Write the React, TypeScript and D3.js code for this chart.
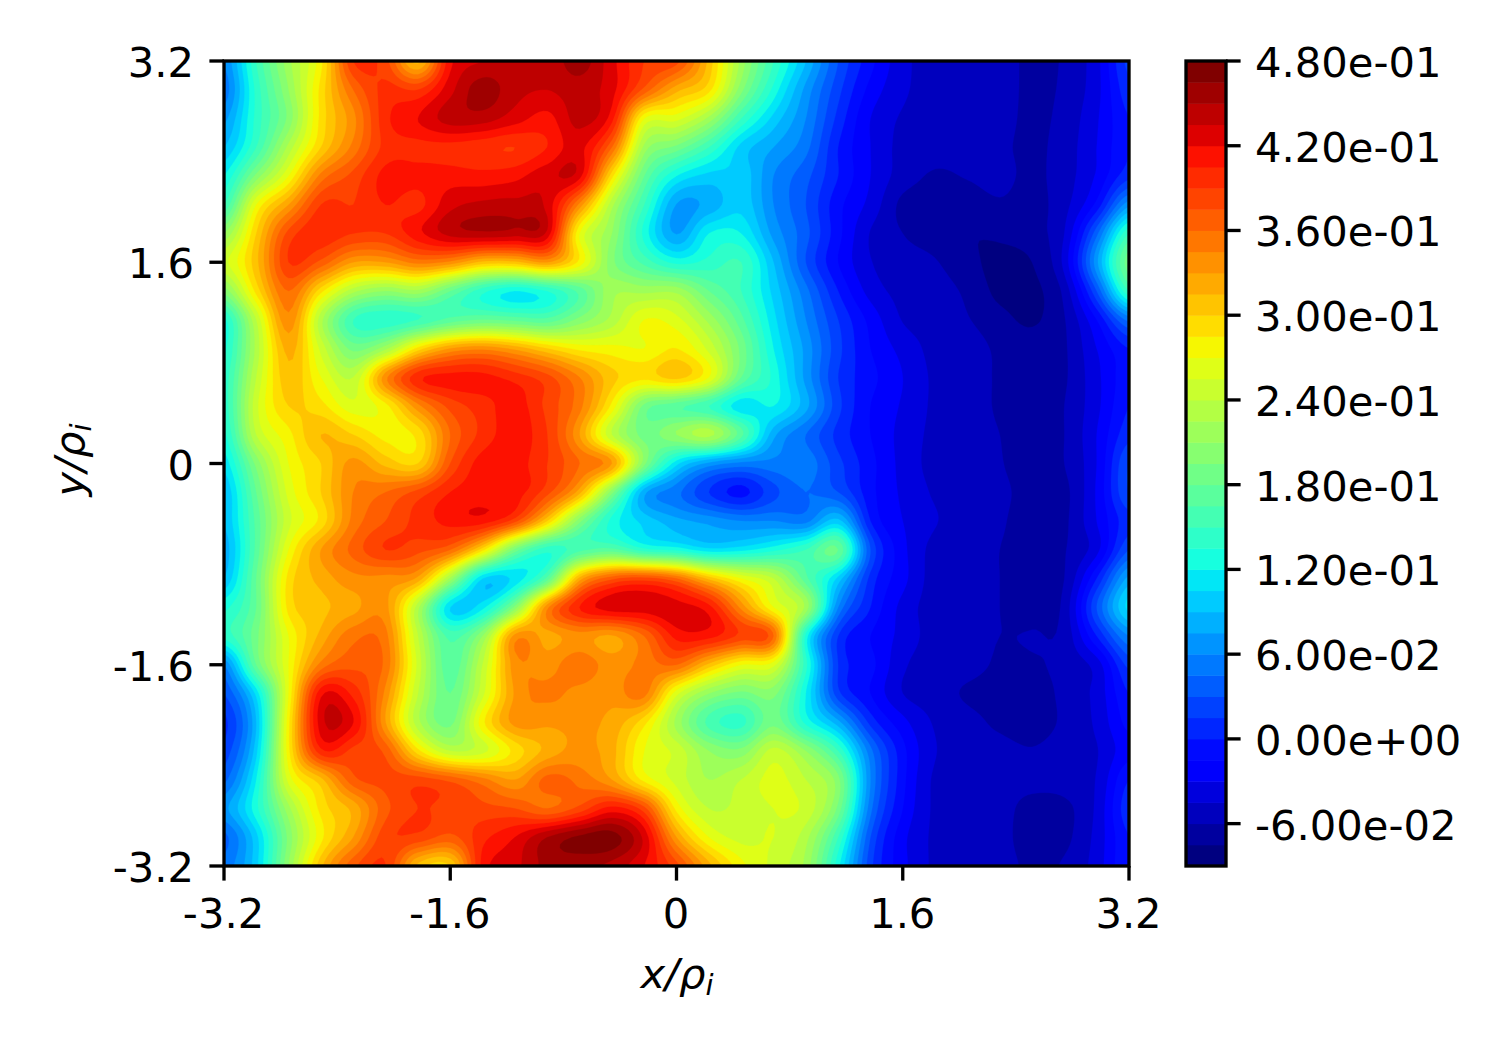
import React, { useMemo } from "react";
import * as d3 from "d3";

// Field values, in units of 1e-2, top row first (y = +3.2), left to right (x = -3.2 .. 3.2)
const row00 = [6,15,22,28,39,38,31,41.5,43.5,43.8,43.8,45.8,42.5,39,38,31,22,15,9,3,-1,-4,-5.2,-5.3,-5.4,-6.3,-5.8,-3.5,2];
const row01 = [5,14,21,29,36,39.5,39,43,45.8,44,43.5,44.2,42.5,37,32,29,20,13,7,2,-2,-4.2,-5.2,-5.3,-5.4,-6.3,-5.7,-3.5,1];
const row02 = [7,14,20,29,34,40,42,44.2,44.2,42.7,41.5,44,41,27,26,22,15,10,6,1,-3,-4.7,-5.2,-5.3,-5.5,-6.3,-5.5,-3.2,0];
const row03 = [9,15,23,30,35,39.5,40,40,39.5,39,40.5,42.5,36,22,19,15,10,7.5,5,0,-3,-5,-5.3,-5.3,-5.7,-6.3,-5.3,-3,0];
const row04 = [12,20,27,35,38,41,41,41.2,41,41.5,43,42.5,29,18,12,10,10,6,3.5,0,-3,-5.2,-6.2,-5.9,-5.6,-6.3,-5.2,-2.8,1];
const row05 = [15,27,33,39,39,40.5,40,43,43.8,43.9,43,34,23,15,7.4,8,10,6,3,-1,-3.5,-6.4,-6.6,-6.7,-6.2,-6.5,-5,-1,7];
const row06 = [21,30,38,40,39,39,41.5,44,44.6,44.2,43,27,21,13,7.4,12,12,7,3.5,-1,-4.6,-6,-6.6,-7.4,-7.2,-6.5,-4.5,4,15];
const row07 = [25,31,39,37,33,33,35,34,31,31,33,28,20,16,13,14,15,9,3,-1.5,-4.4,-5.4,-5.9,-7,-8,-7.5,-4,7,19];
const row08 = [20,29,36,29,23,21,22,18,14,12,13.5,17,22,22,22,18,15,10,5,0,-3.6,-5,-5.4,-6.3,-7.9,-7.9,-5.5,3,15];
const row09 = [13,24,34,23,15,14,15,17,18,17.5,17,20,23,27,26,22,17,11,6,1.5,-2,-4.6,-5.2,-5.9,-7,-7.7,-6.1,-1.5,5];
const row10 = [13,23,32,25,19,22,29,33,34,32.5,30,28,27.5,27,28.5,25,19,12,7,2,-1.5,-3.5,-5,-5.3,-6.3,-6.8,-6.2,-3,0];
const row11 = [14,24,31,27,24,34,40,41,41,39.8,38,34.5,30.5,29,30.5,27,18,13,7,1.5,-1,-3,-4.8,-5.3,-6.2,-6.7,-6.2,-3.4,-0.5];
const row12 = [14,25,30,29,26,28,34,38,39.7,41.2,38.5,35,28,19,17,15,11,12,8,2,-1.5,-3.2,-4.8,-5.3,-6.2,-6.7,-6,-3.4,0];
const row13 = [13,24,28,31.5,30,28,29,36,39.5,41.2,39,33,24,19,21,23,17,8,4.5,1,-1.5,-3.5,-4.9,-5.3,-6,-6.7,-6,-3,1];
const row14 = [11,20,27,30,33.5,31,30,37.5,41.2,41.2,39,36,33,20,11,7,5.5,5.5,5.5,2,-1,-3.5,-5,-5.3,-5.9,-6.7,-6,-3,3];
const row15 = [9,18,26,30,34.5,36,38,40.5,41.2,41.2,38,32,20,8,5,1.5,-0.5,2.5,4.5,3,-1,-3.3,-4.7,-5.3,-5.7,-6.5,-6.4,-2.8,3];
const row16 = [9,17,25,29,35,37.5,39.5,41,41.2,38,30,20,13,10,8,7,6,6,5.5,9.5,0,-3,-4.4,-5.2,-5.8,-6.7,-6.3,-3,1];
const row17 = [8,17,27,33,36.5,39,38,36,29,19,14,16,17,14,13,11,11.5,13,15,18,3,-2.5,-5,-5.4,-6,-6.7,-6.1,-3.5,3];
const row18 = [9,18,29,32,34,34,32.5,22,10.5,11,17,32,37,38,36,31,27,24,17,10,1,-2.5,-5.2,-5.5,-6,-6.7,-6,0,8];
const row19 = [13,18,29,31,32.5,33.5,23,10.5,11.5,20,34,40.5,42.7,42.7,42.7,41,34,27,22,6,0,-3.5,-5.2,-5.5,-6,-6.6,-5.5,3,11];
const row20 = [14,19,27,32,35.5,35,24,16,21,33.5,32.5,33.8,32.8,36,41,41,38.5,36,13,1.5,-1.5,-3.5,-5.2,-5.5,-6,-5.9,-5.5,0,6];
const row21 = [6,18,27,35,37,35.5,25,17,24,33.8,33.8,35.5,33.8,35,36,31,27,26,14,1.5,-1,-4.2,-5.3,-5.5,-6.2,-6.2,-5.5,-3.8,2];
const row22 = [3,11,27,41.5,40,34,24,18,25,33.2,34.8,34,33.5,35,26,21,19,20,12,2,-1.5,-4.5,-5.3,-6.2,-6.6,-6.7,-5.6,-4,0];
const row23 = [1,9,28,42.8,42,33,23,19,28,33.5,33.3,33.3,32.5,29,22,16,14.5,19,13,8,1,-2.5,-4.7,-5.5,-6.3,-6.7,-5.7,-4.2,-1];
const row24 = [2,10,28,40,38.5,37,29,24,25,29,32,33.5,32,27,25,21,20,24.5,21,15,5,-1,-4.4,-5.2,-5.5,-5.9,-5.3,-4.6,-2];
const row25 = [4,12,26,31,37,38,38.2,37,35,33,36.5,35.5,33,28,25,22.5,24,26,24,20,6,-1,-4.8,-5.1,-5.3,-5.5,-5.3,-4.4,0];
const row26 = [7,13,22,29,32,37,39,38.5,38,37.5,36,38,41,38,28,24,24.5,25.5,25,19,5,-1.5,-4.8,-5.1,-5.4,-6.6,-6.4,-4.2,1];
const row27 = [4,10,20,28,33,38.5,38.5,37,40,42,45,46.8,47.2,43,33,27,25,25.5,23,15,3,-2.5,-4.8,-5.1,-5.5,-6.7,-6.4,-4,0];
const row28 = [5,10,21,31,37,39,31,30,41,43,45.5,45.5,44.5,42,38,32,27.5,25,22,12.5,2,-2.5,-4.8,-5.1,-5.4,-6.3,-5.8,-3.8,0];
const fieldRows = [row00,row01,row02,row03,row04,row05,row06,row07,row08,row09,row10,row11,row12,row13,row14,row15,row16,row17,row18,row19,row20,row21,row22,row23,row24,row25,row26,row27,row28];

const axisTicks = [-3.2, -1.6, 0, 1.6, 3.2];
const axisTickLabels = ["-3.2", "-1.6", "0", "1.6", "3.2"];
const levelMin = -0.09;
const levelStep = 0.015;
const levelCount = 39;
const barTicks = [0.48, 0.42, 0.36, 0.3, 0.24, 0.18, 0.12, 0.06, 0, -0.06];
const barTickLabels = ["4.80e-01","4.20e-01","3.60e-01","3.00e-01","2.40e-01","1.80e-01","1.20e-01","6.00e-02","0.00e+00","-6.00e-02"];

const LEFT = 224, RIGHT = 1129, TOP = 61, BOTTOM = 866;
const BAR_L = 1186, BAR_R = 1226;
const FONT = "'DejaVu Sans', sans-serif";
const FS = 41.67, LW = 3.33, TICK = 14.6;

const jetR = d3.scaleLinear([0, 0.35, 0.66, 0.89, 1], [0, 0, 1, 1, 0.5]);
const jetG = d3.scaleLinear([0, 0.125, 0.375, 0.64, 0.91, 1], [0, 0, 1, 1, 0, 0]);
const jetB = d3.scaleLinear([0, 0.11, 0.34, 0.65, 1], [0.5, 1, 1, 0, 0]);
const jet = (t: number) =>
  `rgb(${Math.round(jetR(t) * 255)},${Math.round(jetG(t) * 255)},${Math.round(jetB(t) * 255)})`;

const levels = d3.range(levelCount).map((i) => levelMin + i * levelStep);
const bandColor = (i: number) => jet(i / (levelCount - 2));

function catmull(p0: number, p1: number, p2: number, p3: number, t: number) {
  return 0.5 * (2 * p1 + (p2 - p0) * t + (2 * p0 - 5 * p1 + 4 * p2 - p3) * t * t + (3 * p1 - p0 - 3 * p2 + p3) * t * t * t);
}

// Smooth the read grid for drawing (bicubic resampling of the values above).
function resample(rows: number[][], k: number) {
  const nr = rows.length, nc = rows[0].length;
  const W = (nc - 1) * k + 1, H = (nr - 1) * k + 1;
  const out = new Float64Array(W * H);
  const at = (r: number, c: number) => rows[Math.max(0, Math.min(nr - 1, r))][Math.max(0, Math.min(nc - 1, c))];
  for (let j = 0; j < H; j++) {
    const r = Math.min(Math.floor(j / k), nr - 2), tr = j / k - r;
    for (let i = 0; i < W; i++) {
      const c = Math.min(Math.floor(i / k), nc - 2), tc = i / k - c;
      const col = [-1, 0, 1, 2].map((d) => catmull(at(r + d, c - 1), at(r + d, c), at(r + d, c + 1), at(r + d, c + 2), tc));
      out[j * W + i] = catmull(col[0], col[1], col[2], col[3], tr) * 0.01;
    }
  }
  return { values: out, W, H };
}

export default function App() {
  const x = d3.scaleLinear([-3.2, 3.2], [LEFT, RIGHT]);
  const y = d3.scaleLinear([-3.2, 3.2], [BOTTOM, TOP]);
  const bar = d3.scaleLinear([levelMin, 0.48], [BOTTOM, TOP]);

  const paths = useMemo(() => {
    const { values, W, H } = resample(fieldRows, 8);
    const gx = d3.scaleLinear([0, W - 1], [-3.2, 3.2]);
    const gy = d3.scaleLinear([0, H - 1], [3.2, -3.2]);
    const gen = d3.contours().size([W, H]).smooth(true);
    const proj = d3.geoTransform({
      point(this: any, px: number, py: number) {
        this.stream.point(x(gx(px - 0.5)), y(gy(py - 0.5)));
      },
    });
    const path = d3.geoPath(proj);
    return levels.slice(0, -1).map((lv, i) => ({
      d: path(gen.contour(values as any, i === 0 ? -1 : lv) as any) || "",
      fill: bandColor(i),
    }));
  }, []);

  return (
    <svg
      width={1500}
      height={1050}
      style={{ position: "absolute", left: 0, top: 0, display: "block", background: "#fff" }}
      fontFamily={FONT}
      fontSize={FS}
    >
      <defs>
        <clipPath id="plot">
          <rect x={LEFT} y={TOP} width={RIGHT - LEFT} height={BOTTOM - TOP} />
        </clipPath>
      </defs>
      <g clipPath="url(#plot)">
        <rect x={LEFT} y={TOP} width={RIGHT - LEFT} height={BOTTOM - TOP} fill={bandColor(0)} />
        {paths.map((p, i) => (
          <path key={i} d={p.d} fill={p.fill} stroke={p.fill} strokeWidth={0.3} />
        ))}
      </g>
      <rect x={LEFT} y={TOP} width={RIGHT - LEFT} height={BOTTOM - TOP} fill="none" stroke="#000" strokeWidth={LW} />

      {axisTicks.map((t, i) => (
        <g key={`x${i}`}>
          <line x1={x(t)} x2={x(t)} y1={BOTTOM} y2={BOTTOM + TICK} stroke="#000" strokeWidth={LW} />
          <text x={x(t) - 0.5} y={928} textAnchor="middle">{axisTickLabels[i]}</text>
        </g>
      ))}
      {axisTicks.map((t, i) => (
        <g key={`y${i}`}>
          <line x1={LEFT - TICK} x2={LEFT} y1={y(t)} y2={y(t)} stroke="#000" strokeWidth={LW} />
          <text x={194} y={y(t) + 16} textAnchor="end">{axisTickLabels[i]}</text>
        </g>
      ))}

      <text x={677} y={988} textAnchor="middle" fontStyle="italic">
        x/ρ<tspan fontSize={29} dy={7}>i</tspan>
      </text>
      <text transform="translate(84,460) rotate(-90)" textAnchor="middle" fontStyle="italic">
        y/ρ<tspan fontSize={29} dy={7}>i</tspan>
      </text>

      {levels.slice(0, -1).map((lv, i) => (
        <rect key={i} x={BAR_L} width={BAR_R - BAR_L} y={bar(lv + levelStep)} height={bar(lv) - bar(lv + levelStep) + 0.5} fill={bandColor(i)} />
      ))}
      <rect x={BAR_L} y={TOP} width={BAR_R - BAR_L} height={BOTTOM - TOP} fill="none" stroke="#000" strokeWidth={LW} />
      {barTicks.map((t, i) => (
        <g key={`b${i}`}>
          <line x1={BAR_R} x2={BAR_R + TICK} y1={bar(t)} y2={bar(t)} stroke="#000" strokeWidth={LW} />
          <text x={1255} y={bar(t) + 16}>{barTickLabels[i]}</text>
        </g>
      ))}
    </svg>
  );
}
